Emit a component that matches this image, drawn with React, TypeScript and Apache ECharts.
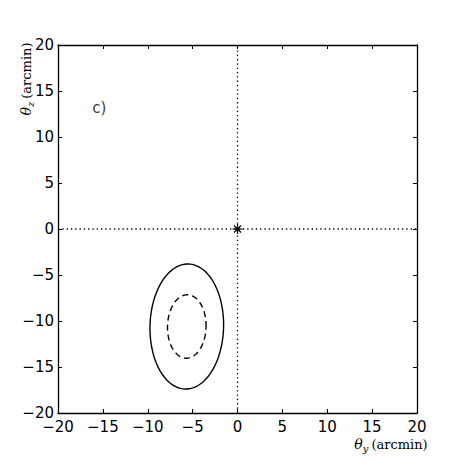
import React, { useEffect, useRef } from "react";
import * as echarts from "echarts";

// ellipse parameters: [centerX, centerY, semiAxisX, semiAxisY, tiltDeg]
const outerEllipse = [[-5.65, -10.6, 4.1, 6.8, -1.5]];
const innerEllipse = [[-5.65, -10.6, 2.15, 3.45, -1.5]];
const origin = [[0, 0]];
const panelLabel = [[-15.4, 13.2, "c)"]];
const xRange = [-20, 20];
const yRange = [-20, 20];
const tickStep = 5;

const minus = (v: number) => String(v).replace("-", "\u2212");

function ellipseItem(dash: number[] | null) {
  return (params: any, api: any) => {
    const cx = api.value(0);
    const cy = api.value(1);
    const rx = api.value(2);
    const ry = api.value(3);
    const phi = (api.value(4) * Math.PI) / 180;
    const pts: number[][] = [];
    const n = 120;
    for (let i = 0; i <= n; i++) {
      const t = (2 * Math.PI * i) / n;
      const dx = rx * Math.cos(t);
      const dy = ry * Math.sin(t);
      pts.push(
        api.coord([
          cx + dx * Math.cos(phi) - dy * Math.sin(phi),
          cy + dx * Math.sin(phi) + dy * Math.cos(phi),
        ])
      );
    }
    return {
      type: "polyline",
      shape: { points: pts },
      style: {
        stroke: "#000",
        fill: "none",
        lineWidth: 1.4,
        lineDash: dash || undefined,
      },
    };
  };
}

const titleRich = {
  t: { fontFamily: "DejaVu Serif", fontStyle: "italic", fontSize: 14, fill: "#000" },
  s: { fontFamily: "DejaVu Serif", fontStyle: "italic", fontSize: 10, fill: "#000", padding: [9, 3, 0, 0] },
  a: { fontFamily: "DejaVu Serif", fontSize: 13, fill: "#000" },
};

export default function App() {
  const ref = useRef<HTMLDivElement>(null);
  useEffect(() => {
    document.body.style.margin = "0";
    const chart = echarts.init(ref.current!, null, { renderer: "svg" });
    const axisCommon = {
      type: "value",
      interval: tickStep,
      axisLine: { show: true, onZero: false, lineStyle: { color: "#000", width: 1.3 } },
      axisTick: { show: true, inside: true, length: 4, lineStyle: { color: "#000", width: 1 } },
      splitLine: { show: false },
    };
    const labelStyle = {
      color: "#000",
      fontFamily: "DejaVu Sans",
      fontSize: 15,
      formatter: (v: number) => minus(v),
    };
    chart.setOption({
      animation: false,
      backgroundColor: "#fff",
      grid: { left: 58, top: 45, width: 359, height: 368, containLabel: false },
      xAxis: [
        { ...axisCommon, min: xRange[0], max: xRange[1], position: "bottom", axisLabel: { ...labelStyle, margin: 6 } },
        { ...axisCommon, min: xRange[0], max: xRange[1], position: "top", axisLabel: { show: false } },
      ],
      yAxis: [
        { ...axisCommon, min: yRange[0], max: yRange[1], position: "left", axisLabel: { ...labelStyle, margin: 4 } },
        { ...axisCommon, min: yRange[0], max: yRange[1], position: "right", axisLabel: { show: false } },
      ],
      series: [
        {
          type: "line",
          data: [[xRange[0], 0], [xRange[1], 0]],
          symbol: "none",
          lineStyle: { color: "#000", width: 1.3, type: [1.3, 3] },
          silent: true,
        },
        {
          type: "line",
          data: [[0, yRange[0]], [0, yRange[1]]],
          symbol: "none",
          lineStyle: { color: "#000", width: 1.3, type: [1.3, 3] },
          silent: true,
        },
        {
          type: "custom",
          data: outerEllipse,
          renderItem: ellipseItem(null),
          silent: true,
        },
        {
          type: "custom",
          data: innerEllipse,
          renderItem: ellipseItem([6, 4]),
          silent: true,
        },
        {
          type: "custom",
          data: origin,
          silent: true,
          renderItem: (params: any, api: any) => {
            const p = api.coord([api.value(0), api.value(1)]);
            const r = 5;
            const lines = [];
            for (let k = 0; k < 4; k++) {
              const a = (k * Math.PI) / 4;
              lines.push({
                type: "line",
                shape: {
                  x1: p[0] - r * Math.cos(a),
                  y1: p[1] - r * Math.sin(a),
                  x2: p[0] + r * Math.cos(a),
                  y2: p[1] + r * Math.sin(a),
                },
                style: { stroke: "#000", lineWidth: 1.2 },
              });
            }
            return { type: "group", children: lines };
          },
        },
        {
          type: "scatter",
          data: panelLabel,
          symbolSize: 0,
          silent: true,
          label: {
            show: true,
            position: "inside",
            formatter: (p: any) => p.value[2],
            color: "#000",
            fontFamily: "DejaVu Sans",
            fontSize: 15,
          },
        },
      ],
      graphic: [
        {
          type: "text",
          x: 391,
          y: 444,
          style: {
            text: "{t|θ}{s|y}{a|(arcmin)}",
            align: "center",
            verticalAlign: "middle",
            fill: "#000",
            rich: titleRich,
          },
        },
        {
          type: "text",
          x: 26,
          y: 79,
          rotation: Math.PI / 2,
          style: {
            text: "{t|θ}{s|z}{a|(arcmin)}",
            align: "center",
            verticalAlign: "middle",
            fill: "#000",
            rich: titleRich,
          },
        },
      ],
    });
    return () => chart.dispose();
  }, []);
  return <div ref={ref} style={{ width: 463, height: 463 }} />;
}
